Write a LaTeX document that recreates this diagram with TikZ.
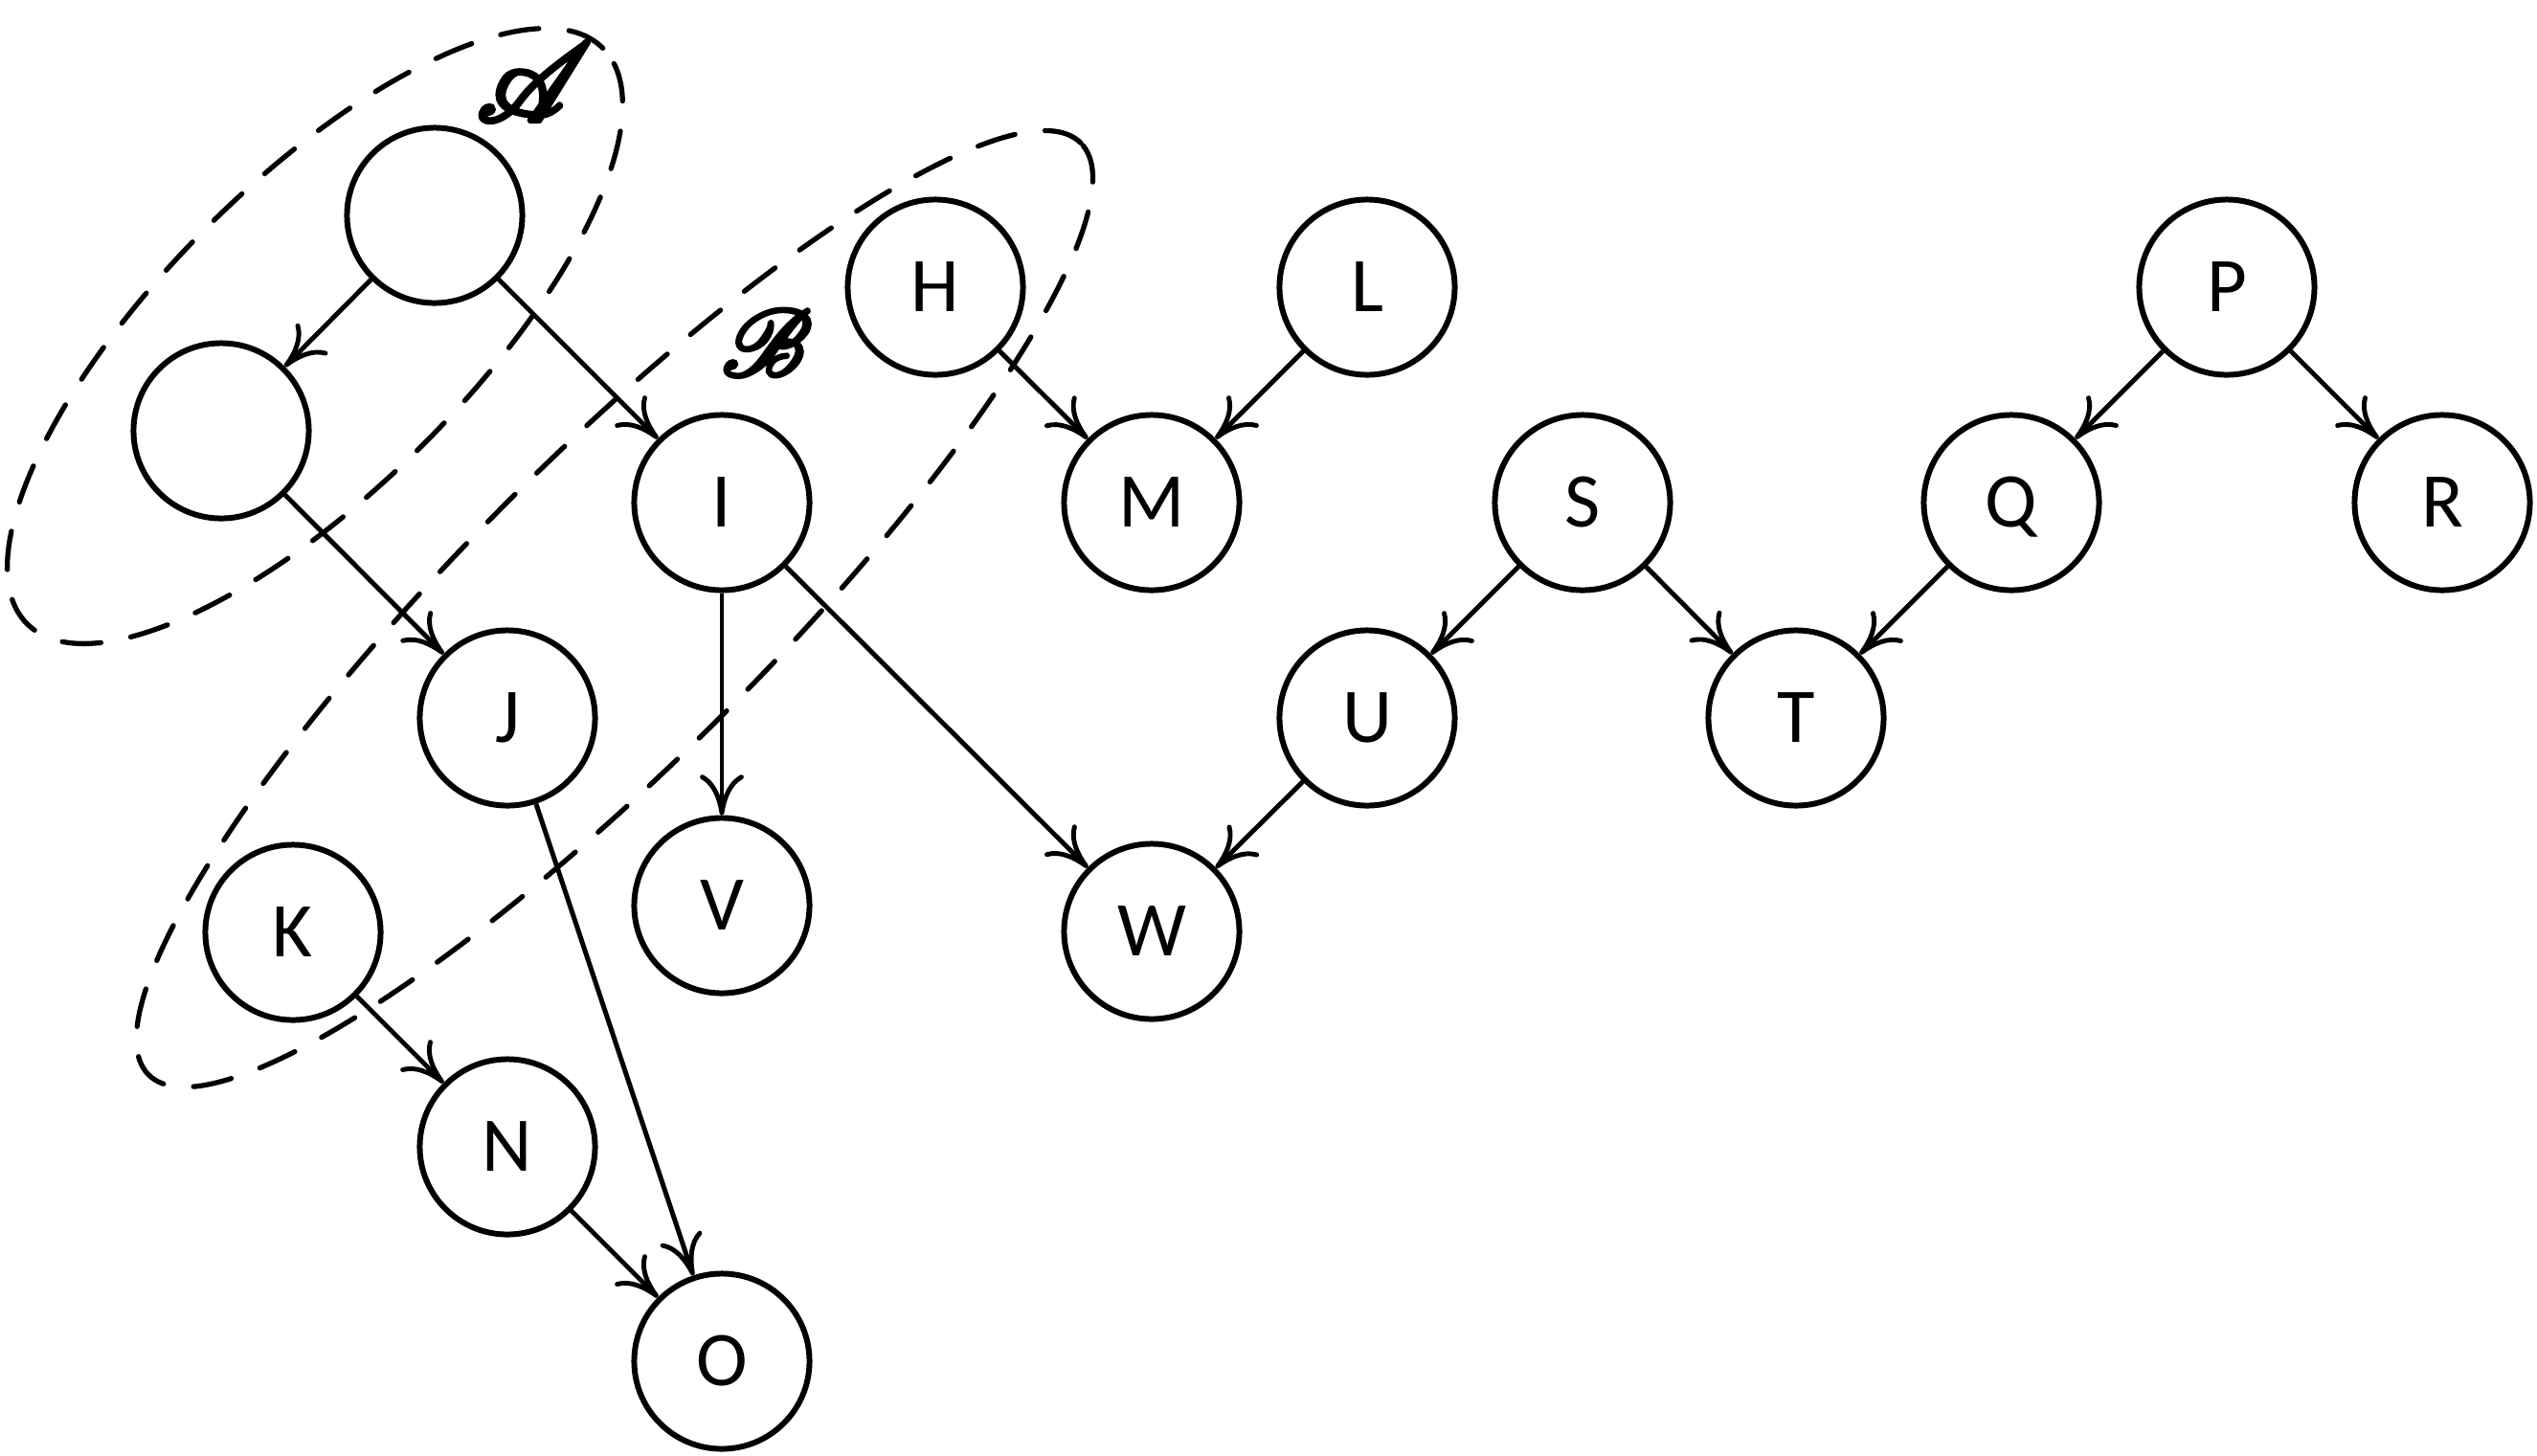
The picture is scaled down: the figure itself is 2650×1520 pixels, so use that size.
\documentclass[tikz,border=0pt]{standalone}
\usepackage{fontspec}
\setmainfont{Carlito}
\usepackage{mathrsfs}
\usetikzlibrary{arrows.meta}
\newcommand\heavyglyph[1]{\special{pdf:literal direct 2 Tr 0.45 w}#1\special{pdf:literal direct 0 Tr}}
\begin{document}
\begin{tikzpicture}[x=0.01cm,y=-0.01cm,
  vtx/.style={circle,draw,line width=1.7pt,minimum size=1.83cm,inner sep=0pt,
    font=\fontsize{23}{27}\selectfont,text height=14.5pt,text depth=0pt},
  edge/.style={line width=1.4pt,-{To[length=12pt,width=13pt]}},
  grp/.style={line width=1.5pt,dash pattern=on 11.5pt off 9pt,line cap=round},
  lbl/.style={inner sep=0pt}]
\useasboundingbox (0,0) rectangle (2650,1520);

% group outlines
\draw[grp, shift={(329,351)}, rotate=45] (0,0) ellipse [x radius=4.25cm, y radius=1.6cm];
\draw[grp, shift={(642,636)}, rotate=45] (0,0) ellipse [x radius=6.88cm, y radius=1.58cm];

% vertices
\node[vtx] (A0) at (454,225) {};
\node[vtx] (B0) at (231,450) {};
\node[vtx] (H) at (977,300) {H};
\node[vtx] (L) at (1428,300) {L};
\node[vtx] (P) at (2326,300) {P};
\node[vtx] (I) at (754,525) {I};
\node[vtx] (M) at (1203,525) {M};
\node[vtx] (S) at (1653,525) {S};
\node[vtx] (Q) at (2101,525) {Q};
\node[vtx] (R) at (2551,525) {R};
\node[vtx] (J) at (530,750) {J};
\node[vtx] (U) at (1428,750) {U};
\node[vtx] (T) at (1876,750) {T};
\node[vtx] (K) at (306,974) {K};
\node[vtx] (V) at (754,946) {V};
\node[vtx] (W) at (1203,973) {W};
\node[vtx] (N) at (530,1198) {N};
\node[vtx] (O) at (754,1422) {O};

% group labels
\node[lbl] (la) at (558,86) {\scalebox{3.3}{\heavyglyph{$\mathscr{A}$}}};
\node[lbl] (lb) at (801,358) {\scalebox{2.8}{\heavyglyph{$\mathscr{B}$}}};

% edges
\draw[edge] (A0) -- (B0);
\draw[edge] (A0) -- (I);
\draw[edge] (B0) -- (J);
\draw[edge] (H) -- (M);
\draw[edge] (L) -- (M);
\draw[edge] (I) -- (V);
\draw[edge] (I) -- (W);
\draw[edge] (J) -- (O);
\draw[edge] (K) -- (N);
\draw[edge] (N) -- (O);
\draw[edge] (S) -- (U);
\draw[edge] (S) -- (T);
\draw[edge] (Q) -- (T);
\draw[edge] (P) -- (Q);
\draw[edge] (P) -- (R);
\draw[edge] (U) -- (W);
\end{tikzpicture}
\end{document}
